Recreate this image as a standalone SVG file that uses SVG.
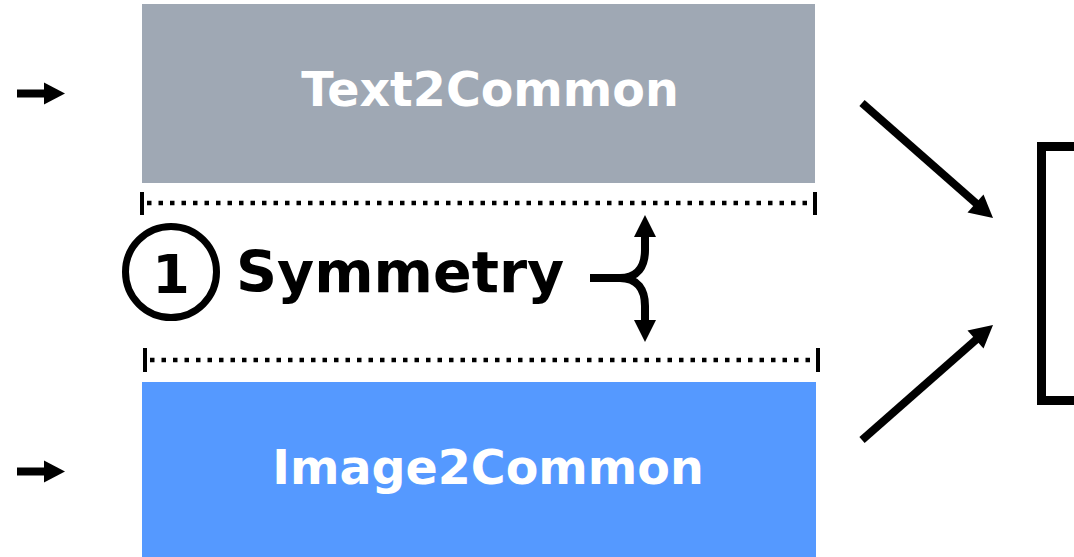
<svg xmlns="http://www.w3.org/2000/svg" width="1074" height="557" viewBox="0 0 1074 557">
<defs>
<style>
.lbl{font-family:"DejaVu Sans","Liberation Sans",sans-serif;font-weight:bold;}
.white{fill:#ffffff;font-size:47.5px;}
.conn{stroke:#000;stroke-width:8;fill:none;}
.head{fill:#000;}
.dots{stroke:#000;stroke-width:4.5;stroke-dasharray:4.5 7;fill:none;}
.tick{stroke:#000;stroke-width:4;}
</style>
</defs>
<rect width="1074" height="557" fill="#ffffff"/>
<g id="text2common">
<rect x="142" y="4" width="673" height="179" fill="#9fa8b4"/>
<text class="lbl white" x="490" y="106" text-anchor="middle">Text2Common</text>
</g>
<g id="image2common">
<rect x="142" y="382" width="674" height="175" fill="#5599ff"/>
<text class="lbl white" x="488" y="484" text-anchor="middle">Image2Common</text>
</g>
<g id="symmetry">
<circle cx="171" cy="272" r="45.5" fill="none" stroke="#000" stroke-width="7"/>
<text class="lbl" x="171" y="293" font-size="54" text-anchor="middle" fill="#000">1</text>
<text class="lbl" x="236" y="292" font-size="57" fill="#000">Symmetry</text>
</g>
<g id="output-box">
<rect x="1041.5" y="146.5" width="60" height="254" fill="none" stroke="#000" stroke-width="9"/>
</g>
<g id="connectors">
<line class="dots" x1="147" y1="203" x2="812" y2="203"/>
<line class="tick" x1="142" y1="192" x2="142" y2="215"/>
<line class="tick" x1="815" y1="192" x2="815" y2="215"/>
<line class="dots" x1="150" y1="360" x2="815" y2="360"/>
<line class="tick" x1="145" y1="348" x2="145" y2="372"/>
<line class="tick" x1="818" y1="348" x2="818" y2="372"/>
<line class="conn" x1="17" y1="93.5" x2="46" y2="93.5" stroke-width="9"/>
<polygon class="head" points="44,82.5 65,93.5 44,104.5"/>
<line class="conn" x1="17" y1="471.5" x2="46" y2="471.5" stroke-width="9"/>
<polygon class="head" points="44,460.5 65,471.5 44,482.5"/>
<path class="conn" d="M590,278 H620 C638,278 645,266 645,250 V236"/>
<polygon class="head" points="634,237 645,215 656,237"/>
<path class="conn" d="M620,278 C638,278 645,290 645,306 V321"/>
<polygon class="head" points="634,320 645,342 656,320"/>
<line class="conn" x1="862" y1="103" x2="978" y2="205"/>
<polygon class="head" points="993,218 967.5,212.5 983.5,194.5"/>
<line class="conn" x1="862" y1="440" x2="978" y2="338"/>
<polygon class="head" points="993,325 983.5,348.5 967.5,330.5"/>
</g>
</svg>
